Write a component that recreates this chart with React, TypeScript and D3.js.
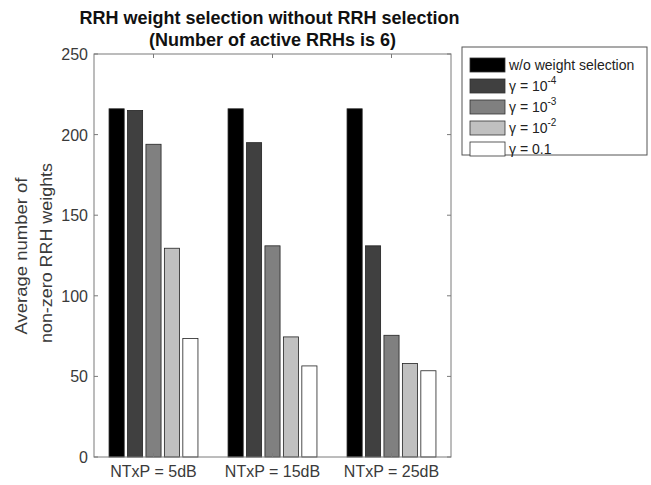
import * as d3 from "d3";

const groups = ["NTxP = 5dB", "NTxP = 15dB", "NTxP = 25dB"];
const seriesNames = ["w/o weight selection", "γ = 10^-4", "γ = 10^-3", "γ = 10^-2", "γ = 0.1"];
const seriesColors = ["#000000", "#404040", "#808080", "#c0c0c0", "#ffffff"];
const values = [
  [216, 215, 194, 129.5, 73.5],
  [216, 195, 131, 74.5, 56.5],
  [216, 131, 75.5, 58, 53.5],
];
const yTicks = [0, 50, 100, 150, 200, 250];

const W = 651;
const H = 485;
const left = 94;
const right = 451;
const top = 54;
const bottom = 457;

export default function App() {
  const x = d3.scaleLinear().domain([0.5, 3.5]).range([left, right]);
  const y = d3.scaleLinear().domain([0, 250]).range([bottom, top]);
  const step = x(2) - x(1);
  const slot = step * 0.155;
  const barW = slot * 0.82;
  const font = "Arial, 'Liberation Sans', Helvetica, sans-serif";
  const axisCol = "#7a7a7a";
  const txtCol = "#3a3a3a";

  const legendLabel = (name: string) => {
    const m = name.match(/^(.*)\^(.*)$/);
    if (!m) return name;
    return (
      <>
        {m[1]}
        <tspan dy={-7} fontSize={10}>{m[2]}</tspan>
      </>
    );
  };

  return (
    <svg width={W} height={H} style={{ position: "absolute", left: 0, top: 0 }} fontFamily={font}>
      <rect width={W} height={H} fill="#fff" />
      <text x={(left + right) / 2 - 3} y={24} textAnchor="middle" fontWeight="bold" fontSize={18} fill="#111">
        RRH weight selection without RRH selection
      </text>
      <text x={(left + right) / 2} y={46} textAnchor="middle" fontWeight="bold" fontSize={18} fill="#111">
        (Number of active RRHs is 6)
      </text>

      {values.map((row, gi) =>
        row.map((v, si) => {
          const cx = x(gi + 1) + (si - 2) * slot;
          return (
            <rect
              key={`${gi}-${si}`}
              x={cx - barW / 2}
              y={y(v)}
              width={barW}
              height={y(0) - y(v)}
              fill={seriesColors[si]}
              stroke="#222"
              strokeWidth={0.8}
            />
          );
        })
      )}

      <rect x={left} y={top} width={right - left} height={bottom - top} fill="none" stroke={axisCol} strokeWidth={1} />
      {yTicks.map((t) => (
        <g key={t}>
          <line x1={left} x2={left + 4} y1={y(t)} y2={y(t)} stroke={axisCol} />
          <line x1={right} x2={right - 4} y1={y(t)} y2={y(t)} stroke={axisCol} />
          <text x={left - 6} y={y(t) + 6} textAnchor="end" fontSize={16} fill={txtCol}>
            {t}
          </text>
        </g>
      ))}
      {groups.map((g, i) => (
        <g key={g}>
          <line x1={x(i + 1)} x2={x(i + 1)} y1={bottom} y2={bottom - 4} stroke={axisCol} />
          <line x1={x(i + 1)} x2={x(i + 1)} y1={top} y2={top + 4} stroke={axisCol} />
          <text x={x(i + 1)} y={477} textAnchor="middle" fontSize={16} fill={txtCol}>
            {g}
          </text>
        </g>
      ))}
      <g transform={`translate(0, 255) rotate(-90)`}>
        <text x={-1} y={27} textAnchor="middle" fontSize={16} fill={txtCol} textLength={157} lengthAdjust="spacingAndGlyphs">
          Average number of
        </text>
        <text x={2} y={52} textAnchor="middle" fontSize={16} fill={txtCol} textLength={180} lengthAdjust="spacingAndGlyphs">
          non-zero RRH weights
        </text>
      </g>

      <rect x={462} y={47} width={185} height={108} fill="#fff" stroke="#555" strokeWidth={1} />
      {seriesNames.map((n, i) => (
        <g key={n}>
          <rect x={470} y={58 + i * 21} width={35} height={14} fill={seriesColors[i]} stroke="#333" strokeWidth={0.8} />
          <text x={509} y={70 + i * 21} fontSize={14} fill="#222">
            {legendLabel(n)}
          </text>
        </g>
      ))}
    </svg>
  );
}
